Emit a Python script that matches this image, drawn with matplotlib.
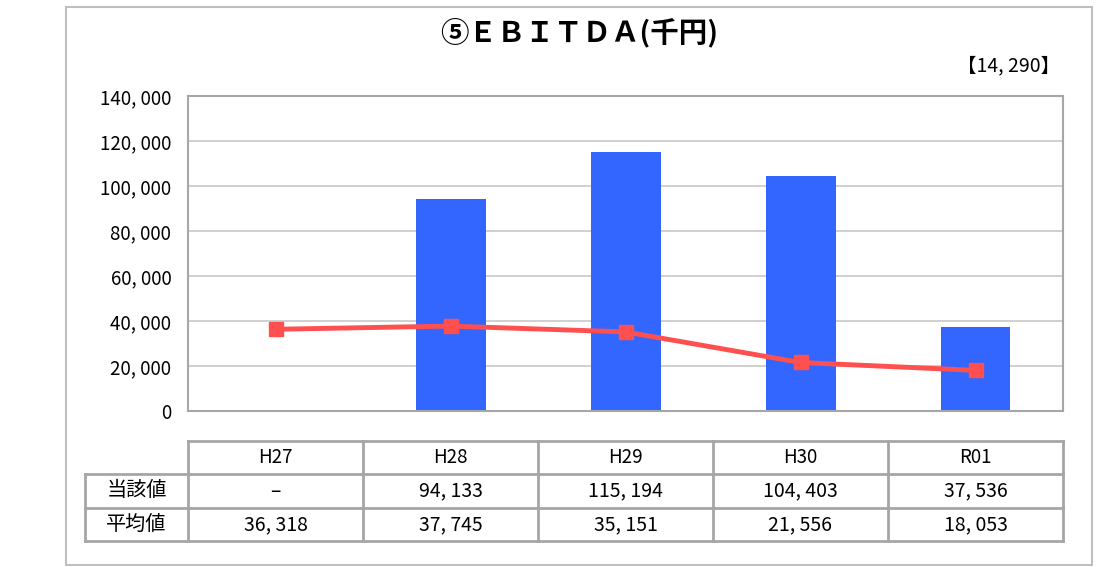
import matplotlib.pyplot as plt
from matplotlib.patches import Rectangle
import numpy as np

plt.rcParams['font.family'] = ['Noto Sans CJK JP', 'DejaVu Sans']

years = ["H27", "H28", "H29", "H30", "R01"]
actual = [None, 94133, 115194, 104403, 37536]
average = [36318, 37745, 35151, 21556, 18053]
row_names = ["当該値", "平均値"]
title = "⑤ＥＢＩＴＤＡ(千円)"
note = "【14, 290】"

W, H = 1115, 567
fig = plt.figure(figsize=(W / 100, H / 100), dpi=100)

def fx(px):
    return px / W

def fy(py):
    return 1 - py / H

grey = '#A6A6A6'

# outer frame
fig.patches.append(Rectangle((fx(66), fy(565)), fx(1092) - fx(66), fy(7) - fy(565),
                             transform=fig.transFigure, fill=False, edgecolor='#BFBFBF', lw=1.5))

fig.text(fx(579), fy(33), title, ha='center', va='center', fontsize=20.5, fontweight='semibold')
fig.text(fx(1060), fy(66), note, ha='right', va='center', fontsize=14)

# main chart
ax = fig.add_axes([fx(188), fy(411), fx(1063) - fx(188), fy(96) - fy(411)])
x = np.arange(len(years))
bar_x = [i for i, v in enumerate(actual) if v is not None]
bar_v = [v for v in actual if v is not None]
ax.bar(bar_x, bar_v, width=0.4, color='#3366FF', zorder=2)
ax.plot(x, average, color='#FF4F4F', lw=3.5, marker='s', markersize=10, zorder=3)
ax.set_xlim(-0.5, len(years) - 0.5)
ax.set_ylim(0, 140000)
ax.set_yticks(np.arange(0, 140001, 20000))
ax.set_yticklabels([f"{v:,}".replace(",", ", ") for v in np.arange(0, 140001, 20000)], fontsize=13.5)
ax.set_xticks([])
ax.tick_params(axis='y', length=0, pad=12)
ax.yaxis.grid(True, color='#C8C8C8', lw=1.2, zorder=0)
for s in ax.spines.values():
    s.set_color(grey)
    s.set_linewidth(1.5)

# data table
lab_w = (188 - 85) / ((1063 - 188) / 5)
tab = fig.add_axes([fx(85), fy(541), fx(1063) - fx(85), fy(441) - fy(541)])
tab.set_xlim(-0.5 - lab_w, len(years) - 0.5)
tab.set_ylim(0, 3)
tab.axis('off')

def cell_text(v):
    return "–" if v is None else f"{v:,}".replace(",", ", ")

rows = [[cell_text(v) for v in actual], [cell_text(v) for v in average]]
for i, yr in enumerate(years):
    tab.text(i, 2.5, yr, ha='center', va='center', fontsize=13.5)
    for r in range(2):
        tab.text(i, 1.5 - r, rows[r][i], ha='center', va='center', fontsize=14)
for r, name in enumerate(row_names):
    tab.text(-0.5 - lab_w / 2, 1.5 - r, name, ha='center', va='center', fontsize=14.5)

lk = dict(color=grey, lw=2, clip_on=False)
left = -0.5 - lab_w
right = len(years) - 0.5
tab.plot([-0.5, right], [3, 3], **lk)
for yv in [2, 1, 0]:
    tab.plot([left, right], [yv, yv], **lk)
tab.plot([left, left], [0, 2], **lk)
for i in range(len(years) + 1):
    tab.plot([i - 0.5, i - 0.5], [0, 3], **lk)

fig.savefig("out.png", dpi=100)
